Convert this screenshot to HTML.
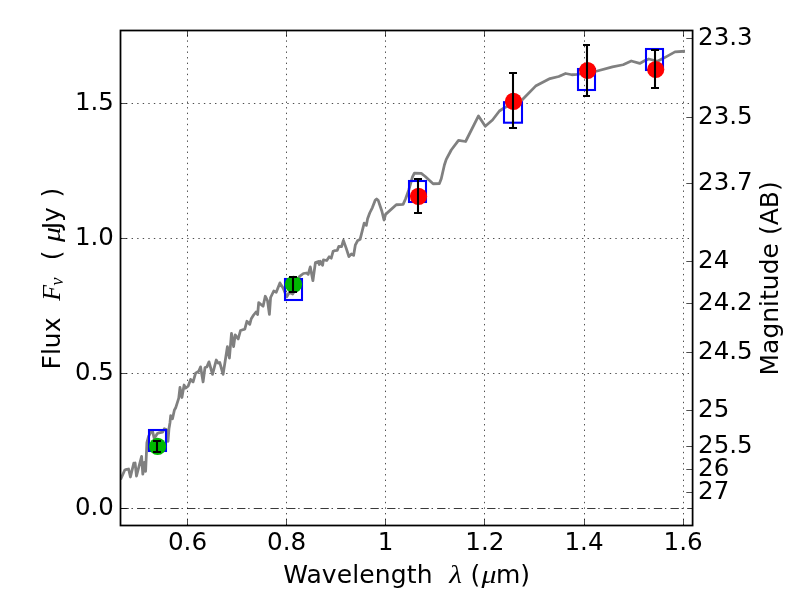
<!DOCTYPE html>
<html lang="en"><head><meta charset="utf-8"><title>SED fit</title>
<style>
html,body{margin:0;padding:0;background:#fff;}
body{width:800px;height:600px;overflow:hidden;}
svg{display:block;will-change:transform;}
text{font-family:"DejaVu Sans","Liberation Sans",sans-serif;font-size:25px;fill:#000;}
.m{font-family:"Liberation Serif","DejaVu Serif",serif;font-style:italic;font-size:26px;}
</style></head><body>
<svg width="800" height="600" viewBox="0 0 800 600">
<rect x="0" y="0" width="800" height="600" fill="#fff"/>

<g stroke="#000" stroke-width="0.7" stroke-dasharray="1.39 4.17" fill="none">
<path d="M187.5 525.5V30.5"/>
<path d="M286.5 525.5V30.5"/>
<path d="M385.5 525.5V30.5"/>
<path d="M484.5 525.5V30.5"/>
<path d="M584.5 525.5V30.5"/>
<path d="M683.5 525.5V30.5"/>
<path d="M120.5 373.5H692.6"/>
<path d="M120.5 238.5H692.6"/>
<path d="M120.5 103.5H692.6"/>
</g>
<path d="M120.4 508.5H692.6" stroke="#000" stroke-width="0.78" stroke-dasharray="8.33 2.78 1.39 4.17" fill="none"/>
<clipPath id="c"><rect x="120.5" y="30.5" width="572.1" height="495.0"/></clipPath>
<g clip-path="url(#c)">
<path d="M120.60 479.50 L124.80 470.00 L126.50 469.40 L128.60 469.00 L130.40 477.00 L133.80 463.20 L135.10 463.00 L136.50 476.00 L141.60 456.30 L142.80 474.20 L144.40 462.50 L145.60 471.30 L146.90 442.50 L148.50 436.50 L150.70 432.40 L152.50 431.20 L154.30 438.60 L157.30 433.50 L159.00 432.90 L162.60 432.20 L164.30 428.80 L166.30 429.60 L168.00 441.30 L169.00 428.50 L170.00 422.50 L170.70 415.60 L172.50 418.80 L174.40 410.00 L175.60 408.10 L178.75 398.10 L180.00 387.50 L181.90 397.50 L184.10 385.00 L185.60 388.10 L188.10 386.25 L190.60 379.40 L193.10 381.90 L195.60 373.10 L198.75 371.25 L200.60 366.90 L203.10 381.90 L205.00 367.50 L206.90 366.90 L209.00 361.90 L212.50 374.40 L216.25 360.00 L218.10 363.10 L219.75 362.50 L223.10 374.40 L227.40 346.70 L229.40 358.10 L231.50 333.40 L233.60 346.60 L235.20 334.90 L238.20 339.00 L240.50 330.50 L244.80 329.20 L246.90 321.25 L249.75 324.40 L251.25 318.75 L253.60 315.00 L256.00 312.00 L257.60 314.60 L258.70 302.70 L263.10 306.25 L265.25 296.25 L267.50 300.60 L269.40 314.40 L270.60 297.50 L273.75 291.00 L276.25 292.30 L279.90 282.90 L283.20 288.20 L285.50 294.00 L286.80 296.80 L289.30 292.30 L292.70 294.00 L295.00 290.00 L297.50 281.00 L299.60 276.30 L303.40 273.50 L306.50 273.00 L308.20 274.30 L310.30 266.90 L312.90 280.70 L315.40 262.60 L318.40 261.50 L319.30 264.50 L320.40 261.30 L322.60 265.30 L323.40 259.90 L326.75 260.50 L329.20 256.80 L331.25 258.20 L333.10 251.30 L335.00 250.60 L337.20 250.40 L338.75 246.40 L341.60 246.70 L343.40 240.40 L346.25 248.40 L348.90 256.60 L351.40 254.00 L353.60 255.40 L355.30 245.20 L357.50 240.80 L360.10 239.30 L364.20 223.20 L366.30 225.40 L367.60 218.80 L369.70 213.00 L372.40 207.60 L375.20 200.20 L376.60 198.90 L378.30 200.60 L381.90 211.25 L384.00 220.00 L385.60 214.40 L396.25 204.75 L403.10 204.40 L405.60 198.75 L408.75 190.00 L412.50 176.90 L414.40 173.10 L421.25 173.40 L425.00 176.25 L433.10 183.75 L439.40 183.50 L441.25 178.75 L444.40 165.00 L446.25 159.40 L451.25 150.00 L458.50 140.40 L465.60 141.50 L478.50 115.90 L485.25 126.25 L492.50 120.00 L499.40 111.00 L503.75 108.10 L513.00 104.00 L522.50 99.50 L535.60 86.10 L550.00 78.60 L558.75 76.50 L565.60 73.50 L571.90 74.75 L576.90 74.40 L587.00 72.80 L596.25 71.25 L612.50 66.90 L623.10 64.75 L631.25 61.00 L639.75 63.40 L645.00 60.60 L648.75 59.00 L657.50 61.25 L663.75 58.10 L675.00 51.90 L685.00 51.25" fill="none" stroke="#808080" stroke-width="2.78" stroke-linejoin="round" stroke-linecap="butt"/>
<rect x="149" y="430" width="17.00" height="21.00" fill="none" stroke="#0000ff" stroke-width="2.08"/>
<rect x="285" y="279" width="17.00" height="21.00" fill="none" stroke="#0000ff" stroke-width="2.08"/>
<rect x="409" y="181" width="17.00" height="21.00" fill="none" stroke="#0000ff" stroke-width="2.08"/>
<rect x="504" y="102.2" width="18.00" height="20.50" fill="none" stroke="#0000ff" stroke-width="2.08"/>
<rect x="578" y="69" width="17.00" height="21.00" fill="none" stroke="#0000ff" stroke-width="2.08"/>
<rect x="646" y="49" width="17.00" height="21.00" fill="none" stroke="#0000ff" stroke-width="2.08"/>
<circle cx="157.6" cy="446.4" r="8.6" fill="#00b800"/>
<circle cx="293.5" cy="284.3" r="8.6" fill="#00b800"/>
<circle cx="418.5" cy="196.3" r="8.6" fill="#ff0000"/>
<circle cx="513.5" cy="101.3" r="8.6" fill="#ff0000"/>
<circle cx="587.6" cy="70.5" r="8.6" fill="#ff0000"/>
<circle cx="655.7" cy="69.5" r="8.6" fill="#ff0000"/>
<path d="M157.0 441.0V452.0M153.0 441.0H161.0M153.0 452.0H161.0" stroke="#000" stroke-width="2.08" fill="none"/>
<path d="M293.0 277.0V292.0M289.0 277.0H297.0M289.0 292.0H297.0" stroke="#000" stroke-width="2.08" fill="none"/>
<path d="M418.0 179.0V213.0M414.0 179.0H422.0M414.0 213.0H422.0" stroke="#000" stroke-width="2.08" fill="none"/>
<path d="M513.0 73.0V128.0M509.0 73.0H517.0M509.0 128.0H517.0" stroke="#000" stroke-width="2.08" fill="none"/>
<path d="M587.0 45.0V96.0M583.0 45.0H590.0M583.0 96.0H590.0" stroke="#000" stroke-width="2.08" fill="none"/>
<path d="M655.0 50.0V88.0M651.0 50.0H659.0M651.0 88.0H659.0" stroke="#000" stroke-width="2.08" fill="none"/>
</g>
<g stroke="#000" stroke-width="0.7" fill="none">
<path d="M187.5 525.5v-6.3M187.5 30.5v6.3"/>
<path d="M286.5 525.5v-6.3M286.5 30.5v6.3"/>
<path d="M385.5 525.5v-6.3M385.5 30.5v6.3"/>
<path d="M484.5 525.5v-6.3M484.5 30.5v6.3"/>
<path d="M584.5 525.5v-6.3M584.5 30.5v6.3"/>
<path d="M683.5 525.5v-6.3M683.5 30.5v6.3"/>
<path d="M120.5 508.5h6.3"/>
<path d="M120.5 373.5h6.3"/>
<path d="M120.5 238.5h6.3"/>
<path d="M120.5 103.5h6.3"/>
<path d="M692.6 38.5h-6.3"/>
<path d="M692.6 117.5h-6.3"/>
<path d="M692.6 183.5h-6.3"/>
<path d="M692.6 261.5h-6.3"/>
<path d="M692.6 303.5h-6.3"/>
<path d="M692.6 352.5h-6.3"/>
<path d="M692.6 410.5h-6.3"/>
<path d="M692.6 446.5h-6.3"/>
<path d="M692.6 469.5h-6.3"/>
<path d="M692.6 492.5h-6.3"/>
</g>
<rect x="120.5" y="30.5" width="572.1" height="495.0" fill="none" stroke="#000" stroke-width="1.75"/>
<text transform="translate(187.5 550) scale(0.985 1)" text-anchor="middle">0.6</text>
<text transform="translate(286.6 550) scale(0.985 1)" text-anchor="middle">0.8</text>
<text transform="translate(385.7 550) scale(0.985 1)" text-anchor="middle">1</text>
<text transform="translate(484.9 550) scale(0.985 1)" text-anchor="middle">1.2</text>
<text transform="translate(584.0 550) scale(0.985 1)" text-anchor="middle">1.4</text>
<text transform="translate(683.1 550) scale(0.985 1)" text-anchor="middle">1.6</text>
<text transform="translate(113.9 515.0) scale(0.978 1)" text-anchor="end">0.0</text>
<text transform="translate(113.9 380.0) scale(0.978 1)" text-anchor="end">0.5</text>
<text transform="translate(113.9 245.0) scale(0.978 1)" text-anchor="end">1.0</text>
<text transform="translate(113.9 110.0) scale(0.978 1)" text-anchor="end">1.5</text>
<text transform="translate(698.1 45.0) scale(0.98 1)">23.3</text>
<text transform="translate(698.1 124.0) scale(0.98 1)">23.5</text>
<text transform="translate(698.1 190.0) scale(0.98 1)">23.7</text>
<text transform="translate(698.1 268.0) scale(0.98 1)">24</text>
<text transform="translate(698.1 310.0) scale(0.98 1)">24.2</text>
<text transform="translate(698.1 359.0) scale(0.98 1)">24.5</text>
<text transform="translate(698.1 417.0) scale(0.98 1)">25</text>
<text transform="translate(698.1 453.0) scale(0.98 1)">25.5</text>
<text transform="translate(698.1 476.0) scale(0.98 1)">26</text>
<text transform="translate(698.1 499.0) scale(0.98 1)">27</text>
<text x="283.2" y="583" style="letter-spacing:0.12px">Wavelength</text>
<text class="m" transform="translate(449.3 583) scale(1.13 1)" x="0" y="0">λ</text>
<text x="470.5" y="583">(</text>
<text class="m" transform="translate(481.6 583) scale(1.15 1)" x="0" y="0">μ</text>
<text x="496" y="583">m)</text>
<g transform="translate(60 369.5) rotate(-90)">
<text x="0" y="0">Flux</text>
<text class="m" x="68.8" y="0">F</text>
<text class="m" x="84" y="2.5" style="font-size:18px">ν</text>
<text x="109.2" y="0">(</text>
<text class="m" transform="translate(127.5 0) scale(1.15 1)" x="0" y="0">μ</text>
<text x="140.2" y="0">Jy</text>
<text x="172.1" y="0">)</text>
</g>
<text transform="translate(777.8 375.5) rotate(-90)" x="0" y="0">Magnitude (AB)</text>
</svg>
</body></html>
